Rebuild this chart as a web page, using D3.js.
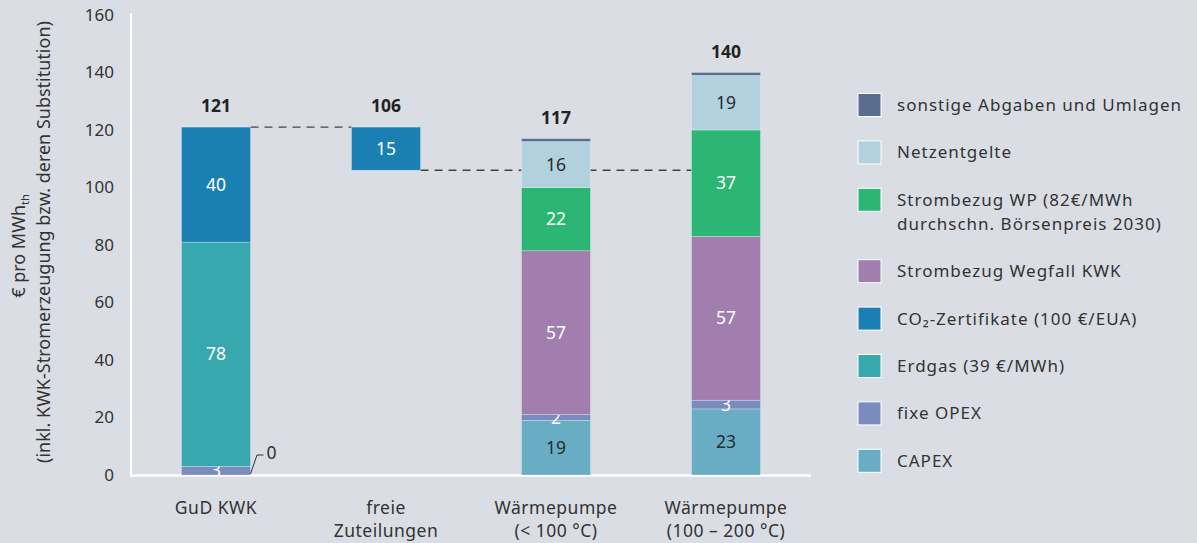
<!DOCTYPE html>
<html>
<head>
<meta charset="utf-8">
<script src="https://cdn.jsdelivr.net/npm/d3@7"></script>
<style>
  body { margin: 0; background: #dadde3; }
  svg { display: block; font-family: "Noto Sans", "Open Sans", sans-serif; }
</style>
</head>
<body>
<svg id="chart" width="1197" height="543"></svg>
<script>
// categories (x axis), label lines
var categories = ["GuD KWK", "freie Zuteilungen", "Wärmepumpe (< 100 °C)", "Wärmepumpe (100 – 200 °C)"];
var categoryLines = [["GuD KWK"], ["freie", "Zuteilungen"], ["Wärmepumpe", "(< 100 °C)"], ["Wärmepumpe", "(100 – 200 °C)"]];

// series values, bottom to top of each stack
var offset   = [0, 106, 0, 0];   // invisible base for the floating bar
var capex    = [0, 0, 19, 23];
var opex     = [3, 0, 2, 3];
var erdgas   = [78, 0, 0, 0];
var co2      = [40, 15, 0, 0];
var wegfall  = [0, 0, 57, 57];
var stromWP  = [0, 0, 22, 37];
var netz     = [0, 0, 16, 19];
var sonstige = [0, 0, 1, 1];
var totals   = [121, 106, 117, 140];

var yTicks = [0, 20, 40, 60, 80, 100, 120, 140, 160];

var series = [
  {key: "offset",   name: "",                                   values: offset,   color: "none",    label: null},
  {key: "capex",    name: "CAPEX",                              values: capex,    color: "#69adc4", label: "#2a2a2a"},
  {key: "opex",     name: "fixe OPEX",                          values: opex,     color: "#7a8bbd", label: "#fff"},
  {key: "erdgas",   name: "Erdgas (39 €/MWh)",                  values: erdgas,   color: "#36a8ae", label: "#fff"},
  {key: "co2",      name: "CO₂-Zertifikate (100 €/EUA)",        values: co2,      color: "#1a7fb2", label: "#fff"},
  {key: "wegfall",  name: "Strombezug Wegfall KWK",             values: wegfall,  color: "#a27eae", label: "#fff"},
  {key: "stromWP",  name: "Strombezug WP (82€/MWh|durchschn. Börsenpreis 2030)", values: stromWP, color: "#2bb673", label: "#fff"},
  {key: "netz",     name: "Netzentgelte",                       values: netz,     color: "#b1d1de", label: "#2a2a2a"},
  {key: "sonstige", name: "sonstige Abgaben und Umlagen",       values: sonstige, color: "#596d8e", label: null}
];

var rows = categories.map(function(c, i) {
  var r = {cat: c};
  series.forEach(function(s) { r[s.key] = s.values[i]; });
  return r;
});

var stack = d3.stack().keys(series.map(function(s) { return s.key; }));
var stacked = stack(rows);

var svg = d3.select("#chart");

var x = d3.scaleBand().domain(categories).range([131, 811]).paddingInner(0.594).paddingOuter(0.297);
var y = d3.scaleLinear().domain([0, 160]).range([475, 15]);

// axes lines (white)
svg.append("line").attr("x1", 131).attr("x2", 131).attr("y1", 13).attr("y2", y(0))
  .attr("stroke", "#fff").attr("stroke-width", 2);
svg.append("line").attr("x1", 130).attr("x2", 811).attr("y1", y(0) + 0.5).attr("y2", y(0) + 0.5)
  .attr("stroke", "#fff").attr("stroke-width", 2.5);

// y tick labels
svg.append("g").selectAll("text").data(yTicks).enter().append("text")
  .attr("x", 114).attr("y", function(d) { return y(d); }).attr("dy", "0.35em")
  .attr("text-anchor", "end").attr("font-size", 17).attr("fill", "#333")
  .text(function(d) { return d; });

// y title
var title = svg.append("text").attr("transform", "translate(25," + 246 + ") rotate(-90)")
  .attr("text-anchor", "middle").attr("font-size", 18).attr("fill", "#333");
title.append("tspan").text("€ pro MWh");
title.append("tspan").attr("font-size", 11).attr("dy", 4).text("th");
svg.append("text").attr("transform", "translate(49.5," + 242 + ") rotate(-90)")
  .attr("text-anchor", "middle").attr("font-size", 18).attr("fill", "#333")
  .text("(inkl. KWK-Stromerzeugung bzw. deren Substitution)");

// dashed connectors
var connectors = [
  {from: 0, to: 1, v: totals[0]},
  {from: 1, to: 3, v: totals[1]}
];
svg.append("g").selectAll("line").data(connectors).enter().append("line")
  .attr("x1", function(d) { return x(categories[d.from]) + x.bandwidth(); })
  .attr("x2", function(d) { return x(categories[d.to]); })
  .attr("y1", function(d) { return y(d.v); })
  .attr("y2", function(d) { return y(d.v); })
  .attr("stroke", "#444").attr("stroke-width", 1.3).attr("stroke-dasharray", "8,6");

// bars
var layers = svg.append("g").selectAll("g").data(stacked).enter().append("g")
  .attr("fill", function(d, i) { return series[i].color; });

layers.selectAll("rect").data(function(d) { return d; }).enter()
  .filter(function(d) { return d[1] - d[0] > 0; })
  .append("rect")
  .attr("x", function(d) { return x(d.data.cat); })
  .attr("width", x.bandwidth())
  .attr("y", function(d) { return y(d[1]); })
  .attr("height", function(d) { return y(d[0]) - y(d[1]); })
  .attr("stroke", function() { return d3.select(this.parentNode).attr("fill") === "none" ? "none" : "rgba(255,255,255,0.35)"; })
  .attr("stroke-width", 0.8);

// segment labels
layers.each(function(layer, i) {
  var s = series[i];
  if (!s.label) return;
  d3.select(this).selectAll("text").data(layer.filter(function(d) { return d[1] - d[0] > 0; }))
    .enter().append("text")
    .attr("x", function(d) { return x(d.data.cat) + x.bandwidth() / 2; })
    .attr("y", function(d) { return y((d[0] + d[1]) / 2); })
    .attr("dy", "0.35em").attr("text-anchor", "middle")
    .attr("font-size", 17.5).attr("fill", s.label)
    .text(function(d) { return d[1] - d[0]; });
});

// zero CAPEX annotation for GuD KWK
var gx = x(categories[0]) + x.bandwidth();
svg.append("path")
  .attr("d", "M" + gx + "," + (y(0) - 1) + "L" + (gx + 6.5) + "," + (y(0) - 20) + "H" + (gx + 13))
  .attr("fill", "none").attr("stroke", "#333").attr("stroke-width", 1);
svg.append("text").attr("x", gx + 16).attr("y", y(0) - 22).attr("dy", "0.35em")
  .attr("font-size", 17.5).attr("fill", "#333").text(capex[0]);

// totals
svg.append("g").selectAll("text").data(totals).enter().append("text")
  .attr("x", function(d, i) { return x(categories[i]) + x.bandwidth() / 2; })
  .attr("y", function(d, i) { return y(d3.sum(series, function(s) { return s.values[i]; })) - 15; })
  .attr("text-anchor", "middle").attr("font-size", 17.5).attr("font-weight", "bold").attr("fill", "#222")
  .text(function(d) { return d; });

// category labels
var cl = svg.append("g").selectAll("text").data(categoryLines).enter().append("text")
  .attr("text-anchor", "middle").attr("font-size", 17.5).attr("letter-spacing", 0.5).attr("fill", "#333")
  .attr("x", function(d, i) { return x(categories[i]) + x.bandwidth() / 2; });
cl.selectAll("tspan").data(function(d) { return d; }).enter().append("tspan")
  .attr("x", function() { return d3.select(this.parentNode).attr("x"); })
  .attr("y", function(d, j) { return 514 + j * 23; })
  .text(function(d) { return d; });

// legend (top to bottom)
var legendItems = series.slice(1).reverse();
var ly = 105;
var legend = svg.append("g");
legendItems.forEach(function(s) {
  var lines = s.name.split("|");
  legend.append("rect").attr("x", 858).attr("y", ly - 11.5).attr("width", 23).attr("height", 23)
    .attr("fill", s.color).attr("stroke", "#fff").attr("stroke-width", 1);
  var t = legend.append("text").attr("x", 897).attr("font-size", 17).attr("letter-spacing", 1).attr("fill", "#333");
  lines.forEach(function(l, j) {
    t.append("tspan").attr("x", 897).attr("y", ly + j * 24).attr("dy", "0.35em").text(l);
  });
  ly += 47.4 + (lines.length - 1) * 24;
});
</script>
</body>
</html>
